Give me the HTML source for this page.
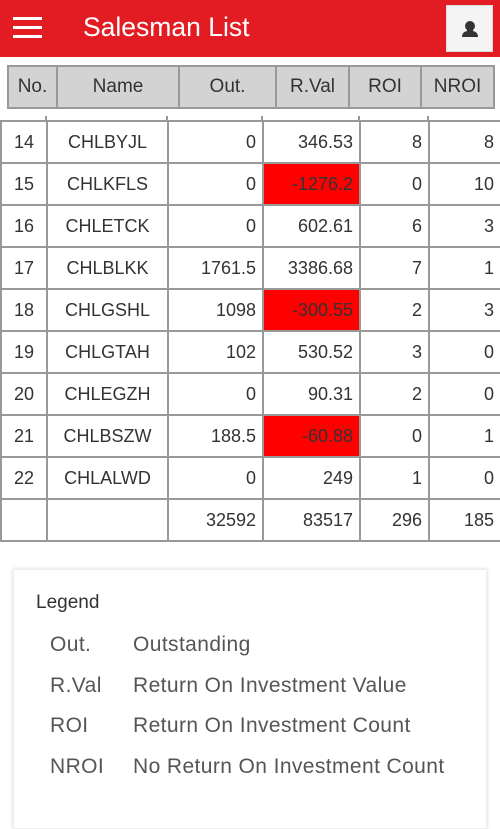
<!DOCTYPE html>
<html><head><meta charset="utf-8">
<style>
*{box-sizing:border-box;margin:0;padding:0}
body{width:500px;height:800px;overflow:hidden;background:#fff;font-family:"Liberation Sans",sans-serif;position:relative;color:#333}
.hdr{position:absolute;left:0;top:0;width:500px;height:57px;background:#e31b23}
.menu{position:absolute;left:13px;top:17px;width:29px;height:22px}
.menu span{position:absolute;left:0;width:29px;height:3px;background:#fff}
.title{position:absolute;left:83px;top:12px;color:#fff;font-size:26.5px}
.ubtn{position:absolute;left:446px;top:5px;width:47px;height:47px;background:#f4f4f4;border:1px solid #ddd}
table{border-collapse:collapse;position:absolute;table-layout:fixed}
td{border:2px solid #999;font-size:18px;white-space:nowrap}
.th td{background:#d3d3d3;text-align:center;height:42px;color:#333;font-size:19px}
.bd td{height:42px;text-align:right;padding-right:6px}
.bd td.c{text-align:center;padding:0}
.bd td.neg{background:#f00}
.card{position:absolute;left:13px;top:569px;width:474px;height:260px;border:1px solid #eee;box-shadow:0 0 4px rgba(0,0,0,.15);background:#fff}
.lg{position:absolute;font-size:19px;color:#333}
.lk,.lv{position:absolute;font-size:21px;letter-spacing:0.4px;color:#555}
</style></head><body>
<div class="hdr">
  <div class="menu"><span style="top:0"></span><span style="top:9px"></span><span style="top:18px"></span></div>
  <div class="title">Salesman List</div>
  <div class="ubtn">
    <svg width="47" height="47" viewBox="0 0 47 47"><circle cx="23" cy="20" r="5" fill="#333"/><path d="M15 31 Q15 26 20 25 L26 25 Q31 26 31 31 Z" fill="#333"/><rect x="20" y="22" width="6" height="5" fill="#333"/></svg>
  </div>
</div>
<table class="th" style="left:7px;top:65px;width:486px">
<colgroup><col style="width:49px"><col style="width:122px"><col style="width:97px"><col style="width:73px"><col style="width:72px"><col style="width:73px"></colgroup>
<tr><td>No.</td><td>Name</td><td>Out.</td><td>R.Val</td><td>ROI</td><td>NROI</td></tr>
</table>
<div style="position:absolute;left:0;top:116px;width:500px;height:6px;overflow:hidden">
 <div style="position:absolute;left:45px;top:0;width:2px;height:6px;background:#999"></div>
 <div style="position:absolute;left:166px;top:0;width:2px;height:6px;background:#999"></div>
 <div style="position:absolute;left:261px;top:0;width:2px;height:6px;background:#999"></div>
 <div style="position:absolute;left:358px;top:0;width:2px;height:6px;background:#999"></div>
 <div style="position:absolute;left:427px;top:0;width:2px;height:6px;background:#999"></div>
</div>
<table class="bd" id="body" style="left:0;top:120px;width:500px">
<colgroup><col style="width:46px"><col style="width:121px"><col style="width:95px"><col style="width:97px"><col style="width:69px"><col style="width:72px"></colgroup>
<tbody id="tb"></tbody>
</table>
<div class="card">
  <div class="lg" style="left:22px;top:22px">Legend</div>
  <div id="lgrows"></div>
</div>
<script>
const nos=[14,15,16,17,18,19,20,21,22];
const names=["CHLBYJL","CHLKFLS","CHLETCK","CHLBLKK","CHLGSHL","CHLGTAH","CHLEGZH","CHLBSZW","CHLALWD"];
const outs=["0","0","0","1761.5","1098","102","0","188.5","0"];
const rvals=["346.53","-1276.2","602.61","3386.68","-300.55","530.52","90.31","-60.88","249"];
const rois=[8,0,6,7,2,3,2,0,1];
const nrois=[8,10,3,1,3,0,0,1,0];
const totals=["","","32592","83517","296","185"];
const tb=document.getElementById('tb');
function cell(tr,txt,cls,name){const td=document.createElement('td');td.textContent=txt;if(cls)td.className=cls;


tr.appendChild(td);}
nos.forEach((n,i)=>{const tr=document.createElement('tr');


cell(tr,n,'c','cell-no');cell(tr,names[i],'c','cell-name');cell(tr,outs[i],'','cell-out');
cell(tr,rvals[i],parseFloat(rvals[i])<0?'neg':'','cell-rval');cell(tr,rois[i],'','cell-roi');cell(tr,nrois[i],'','cell-nroi');
tb.appendChild(tr);});
const tr=document.createElement('tr');


totals.forEach((t,i)=>cell(tr,t,'','total-cell'));tb.appendChild(tr);
const lkeys=["Out.","R.Val","ROI","NROI"];
const lvals=["Outstanding","Return On Investment Value","Return On Investment Count","No Return On Investment Count"];
const lg=document.getElementById('lgrows');
lkeys.forEach((k,i)=>{const a=document.createElement('div');a.className='lk';a.style.left='36px';a.style.top=(63+i*40.7)+'px';a.textContent=k;


const b=document.createElement('div');b.className='lv';b.style.left='119px';b.style.top=(63+i*40.7)+'px';b.textContent=lvals[i];


lg.appendChild(a);lg.appendChild(b);});
</script>
</body></html>
